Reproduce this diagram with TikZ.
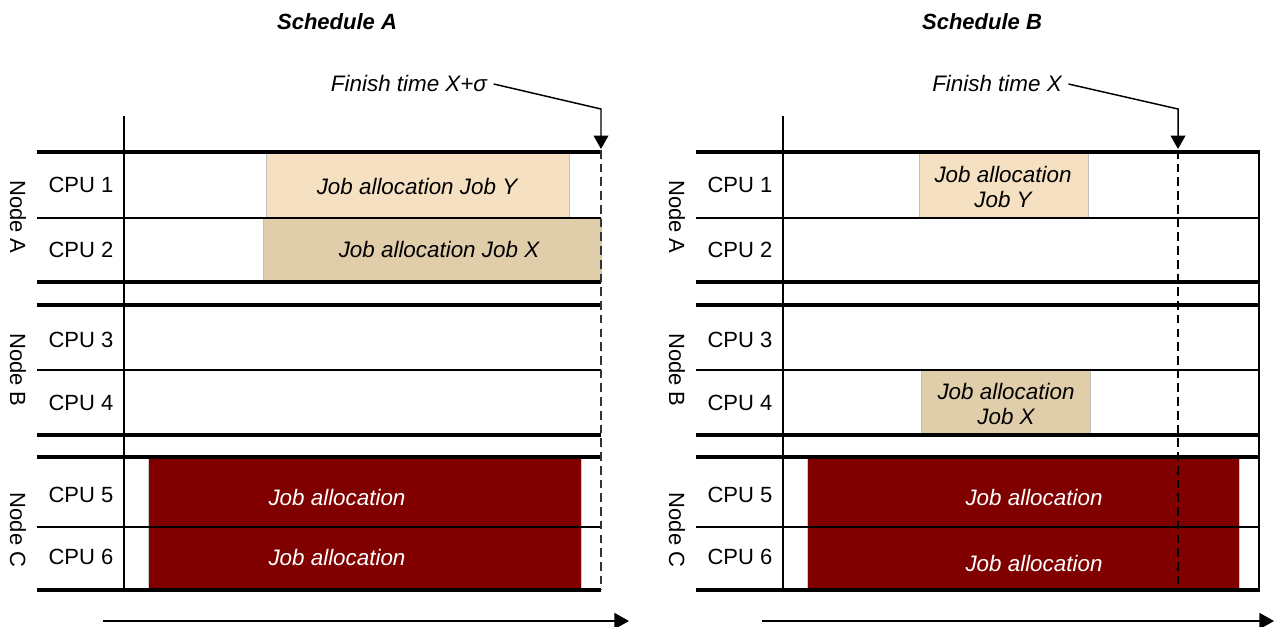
\documentclass[tikz,border=0pt]{standalone}
\usepackage{fontspec}
\setmainfont{Liberation Sans}
\usetikzlibrary{arrows.meta}
\definecolor{jobY}{RGB}{245,225,194}
\definecolor{jobX}{RGB}{224,205,170}
\definecolor{jobD}{RGB}{128,0,0}
\begin{document}
\begin{tikzpicture}[x=0.75pt,y=-0.75pt,
  font=\fontsize{16.5}{19}\selectfont,
  heavy/.style={line width=2.4pt},
  light/.style={line width=1.1pt},
  axisline/.style={line width=1.5pt},
  jobbox/.style={draw=black!25, line width=0.6pt},
  joblabel/.style={font=\fontsize{16.8}{18.5}\selectfont\itshape, align=center},
  cpulabel/.style={anchor=center},
  nodelabel/.style={rotate=-90, anchor=center},
  title/.style={font=\fontsize{16.5}{19}\selectfont\bfseries\itshape},
  finishlabel/.style={font=\fontsize{16.8}{19}\selectfont\itshape},
  finishline/.style={line width=1.9pt, dash pattern=on 6.5pt off 3.8pt},
  pointer/.style={line width=1.1pt, -{Triangle[length=10pt,width=11pt]}},
  timearrow/.style={line width=1.5pt, -{Triangle[length=11pt,width=12pt]}}]
\useasboundingbox (0,0) rectangle (1276,626);

% ---------- job boxes (drawn first) ----------
\node[jobbox, fill=jobY, minimum width={303*0.75pt}, minimum height={66*0.75pt}, inner sep=0pt] (jyA) at (417.5,185) {};
\node[jobbox, fill=jobX, minimum width={338*0.75pt}, minimum height={64*0.75pt}, inner sep=0pt] (jxA) at (432,250) {};
\fill[jobD, draw=black!20, line width=0.6pt] (148,457) rectangle (581,590);
\node[jobbox, fill=jobY, minimum width={169*0.75pt}, minimum height={66*0.75pt}, inner sep=0pt] (jyB) at (1003.5,185) {};
\node[jobbox, fill=jobX, minimum width={169*0.75pt}, minimum height={65*0.75pt}, inner sep=0pt] (jxB) at (1005.5,402.5) {};
\fill[jobD, draw=black!20, line width=0.6pt] (807,457) rectangle (1239,590);

% ---------- grids ----------
\foreach \s/\off in {A/0,B/659}{
  \begin{scope}[shift={(\off,0)}]
    \draw[axisline] (124,116) -- (124,590);
    \foreach \y in {152,282,305,435,457,590} \draw[heavy] (37,\y) -- (601,\y);
    \foreach \y in {218,370,527} \draw[light] (37,\y) -- (601,\y);
    \node[cpulabel] (c1\s) at (81,185) {CPU 1};
    \node[cpulabel] (c2\s) at (81,250) {CPU 2};
    \node[cpulabel] (c3\s) at (81,340) {CPU 3};
    \node[cpulabel] (c4\s) at (81,403) {CPU 4};
    \node[cpulabel] (c5\s) at (81,495) {CPU 5};
    \node[cpulabel] (c6\s) at (81,557) {CPU 6};
    \node[nodelabel] (na\s) at (18,217) {Node A};
    \node[nodelabel] (nb\s) at (18,370) {Node B};
    \node[nodelabel] (nc\s) at (18,530) {Node C};
  \end{scope}
}
\draw[axisline] (1259,151) -- (1259,591);

% ---------- job labels ----------
\node[joblabel] (tyA) at (417,186) {Job allocation Job Y};
\node[joblabel] (txA) at (439,249) {Job allocation Job X};
\node[joblabel, text=white] (d1A) at (337,497) {Job allocation};
\node[joblabel, text=white] (d2A) at (337,557) {Job allocation};
\node[joblabel] (tyB) at (1003,187) {Job allocation\\Job Y};
\node[joblabel] (txB) at (1006,404) {Job allocation\\Job X};
\node[joblabel, text=white] (d1B) at (1034,497) {Job allocation};
\node[joblabel, text=white] (d2B) at (1034,563) {Job allocation};

% ---------- finish lines ----------
\draw[finishline, black!80] (601,150) -- (601,590);
\draw[finishline, black] (1178,150) -- (1178,590);

% ---------- titles and pointers ----------
\node[title] (tA) at (337,22) {Schedule A};
\node[title] (tB) at (982,22) {Schedule B};
\node[finishlabel] (fA) at (409,83) {Finish time X+σ};
\node[finishlabel] (fB) at (997,83) {Finish time X};
\coordinate (bendA) at (601,109);
\coordinate (tipA) at (601,149);
\coordinate (bendB) at (1178,109);
\coordinate (tipB) at (1178,149);
\draw[pointer] (fA.east) ++(2,1) -- (bendA) -- (tipA);
\draw[pointer] (fB.east) ++(2,1) -- (bendB) -- (tipB);

% ---------- time axes ----------
\coordinate (t0A) at (103,621);
\coordinate (t1A) at (629,621);
\coordinate (t0B) at (762,621);
\coordinate (t1B) at (1274,621);
\draw[timearrow] (t0A) -- (t1A);
\draw[timearrow] (t0B) -- (t1B);
\end{tikzpicture}
\end{document}
